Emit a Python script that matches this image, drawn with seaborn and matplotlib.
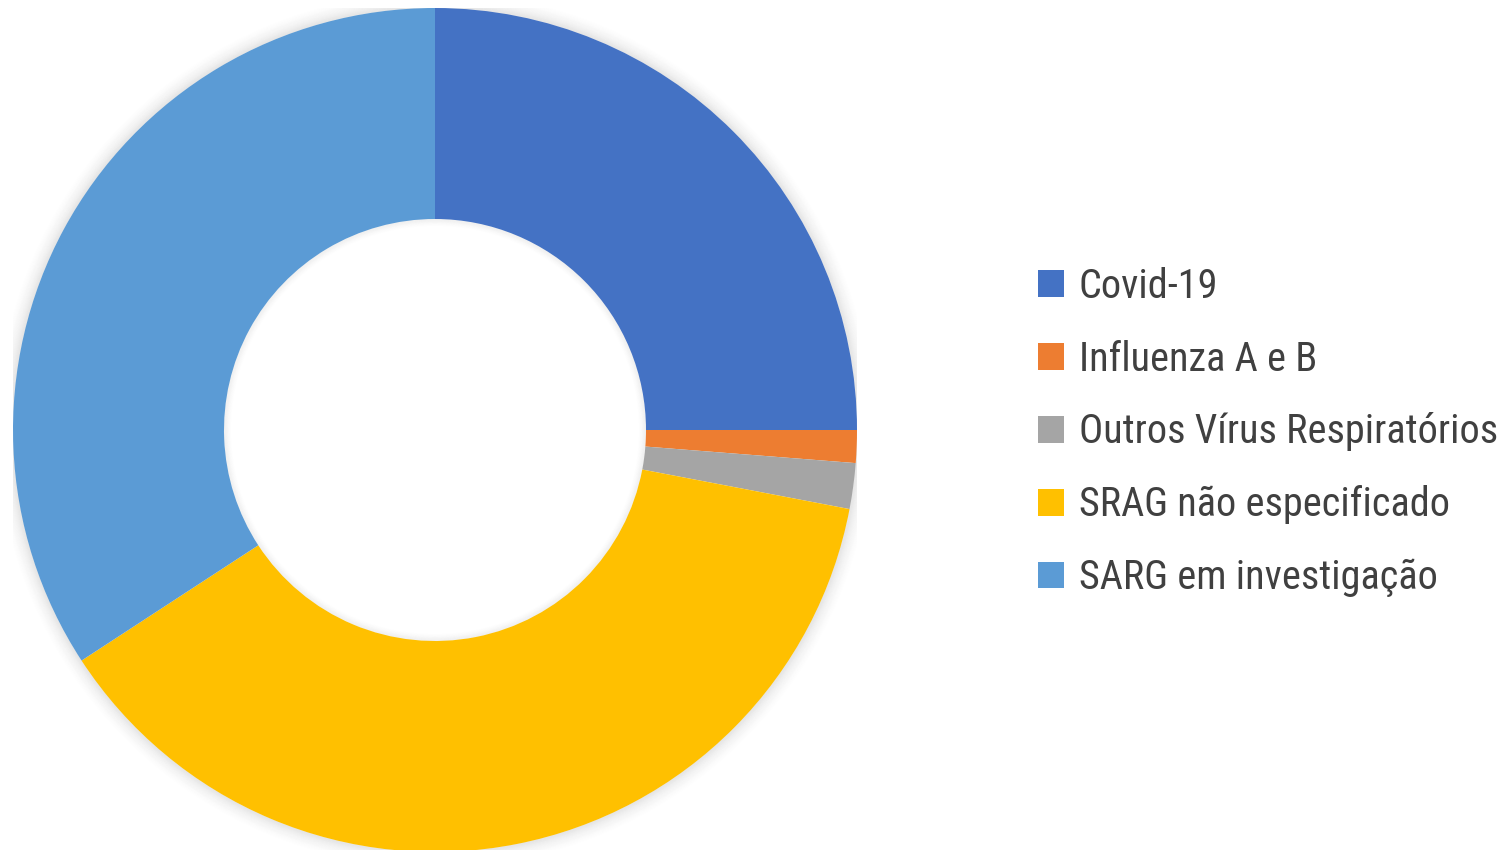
import matplotlib
matplotlib.use("Agg")
import matplotlib.pyplot as plt
import seaborn as sns
from matplotlib.patches import Circle
from matplotlib.font_manager import FontProperties

categories = ["Covid-19", "Influenza A e B", "Outros Vírus Respiratórios",
              "SRAG não especificado", "SARG em investigação"]
values = [25.0, 1.25, 1.75, 37.8, 34.2]
colors = ["#4472C4", "#ED7D31", "#A5A5A5", "#FFC000", "#5B9BD5"]

sns.set_theme(style="white")
plt.rcParams['font.family'] = ['Roboto Condensed', 'Liberation Sans Narrow', 'DejaVu Sans']

W, H = 1506, 850
fig = plt.figure(figsize=(W / 100, H / 100), dpi=100)
fig.patch.set_facecolor("white")

cx, cy, r = 435, 430, 422
ax = fig.add_axes([(cx - r) / W, (H - cy - r) / H, 2 * r / W, 2 * r / H])
ax.set_xlim(-1, 1)
ax.set_ylim(-1, 1)
ax.set_aspect("equal")
ax.axis("off")

# soft shadow around the ring
n_out = 18
for i in range(n_out):
    rad = 1.0 + i * 0.0022
    ax.add_patch(Circle((0, 0), rad, facecolor="none", edgecolor="#000000",
                        linewidth=1.2, alpha=0.06 * (1 - i / n_out) ** 1.5, zorder=0))
n_in = 8
for i in range(n_in):
    rad = 0.5 - i * 0.0022
    ax.add_patch(Circle((0, 0), rad, facecolor="none", edgecolor="#000000",
                        linewidth=1.2, alpha=0.035 * (1 - i / n_in), zorder=0))

wedges, _ = ax.pie(values, colors=sns.color_palette(colors), startangle=90,
                   counterclock=False, radius=1.0,
                   wedgeprops=dict(width=0.5, edgecolor="none", zorder=2))
ax.set_xlim(-1, 1)
ax.set_ylim(-1, 1)

fs = 29
prop = FontProperties(family=['Roboto Condensed', 'Liberation Sans Narrow', 'DejaVu Sans'],
                      stretch='condensed', size=fs)
leg = fig.legend(wedges, categories, loc="center left",
                 bbox_to_anchor=(1022 / W, (H - 432) / H),
                 frameon=False, prop=prop, handlelength=0.645,
                 handleheight=0.645, handletextpad=0.37, labelspacing=0.84,
                 labelcolor="#404040", borderaxespad=0)

fig.savefig("out.png", dpi=100, facecolor="white")
